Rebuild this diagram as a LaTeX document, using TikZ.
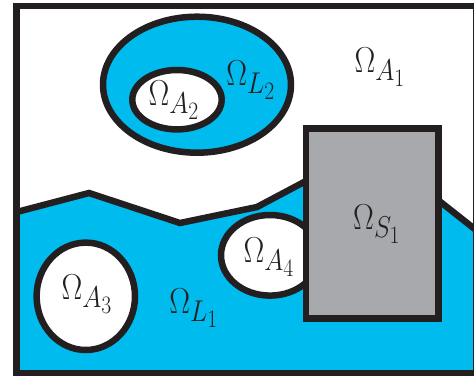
\documentclass[tikz,border=0pt]{standalone}
\usepackage{amsmath}
\usepackage{xcolor}
\usepackage{tikz}
\definecolor{ink}{RGB}{35,31,32}
\definecolor{lake}{RGB}{0,187,238}
\definecolor{rock}{RGB}{167,169,172}
\newcommand{\dom}[1]{\scalebox{1.25}[1.45]{$\Omega_{#1}$}}

\begin{document}
\begin{tikzpicture}[
  x=1pt, y=-1pt,
  wall/.style={draw=ink, line width=6.5pt, line join=miter},
  hole/.style={wall, fill=white},
  wet/.style={wall, fill=lake},
  solid/.style={wall, fill=rock},
  lbl/.style={font=\fontsize{24.88}{28}\selectfont, text=ink, inner sep=0pt}]

  \useasboundingbox (0,0) rectangle (474,376);

  % --- lower lake, filled under the broken shore line
  \fill[lake] (16.7,212) -- (89,193) -- (180,223) -- (257,207) -- (306,181)
    -- (440,201) -- (476,230) -- (476,373) -- (16.7,373) -- cycle;
  \draw[wall] (16.7,212) -- (89,193) -- (180,223) -- (257,207) -- (306,181);
  \draw[wall] (438,200) -- (476,230);

  % --- upper lake with its island
  \draw[wet]  (197,84.7) ellipse [x radius=94, y radius=68];
  \draw[hole] (177,99.7) ellipse [x radius=44.7, y radius=29.7];

  % --- islands in the lower lake
  \draw[hole] (85.8,296.3) ellipse [x radius=49.2, y radius=53.7];
  \draw[hole] (270,255.3) ellipse [x radius=49, y radius=40.3];

  % --- solid block
  \draw[solid] (306,128.7) rectangle (438.3,318.7);

  % --- outer frame
  \draw[wall] (16.7,6) rectangle (476,373);

  \node[lbl] (a1) at (380,67)  {\dom{A_1}};
  \node[lbl] (l2) at (251,80)  {\dom{L_2}};
  \node[lbl] (a2) at (174,100) {\dom{A_2}};
  \node[lbl] (s1) at (377,224) {\dom{S_1}};
  \node[lbl] (a4) at (269,257) {\dom{A_4}};
  \node[lbl] (a3) at (87,294)  {\dom{A_3}};
  \node[lbl] (l1) at (194,308) {\dom{L_1}};
\end{tikzpicture}
\end{document}
